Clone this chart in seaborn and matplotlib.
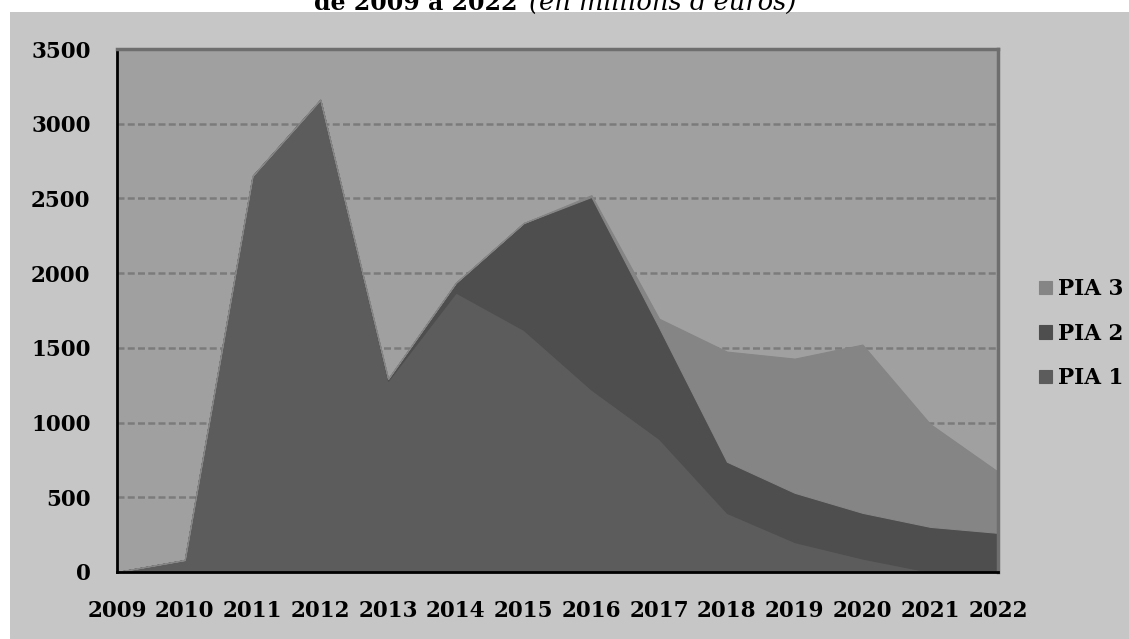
import numpy as np
import pandas as pd
import matplotlib
matplotlib.use("Agg")
import matplotlib.pyplot as plt
from matplotlib.patches import Rectangle
import seaborn as sns

# Annual commitments per programme (millions of euros)
years = [2009, 2010, 2011, 2012, 2013, 2014, 2015, 2016, 2017, 2018, 2019, 2020, 2021, 2022]
pia1 = [0, 80, 2650, 3160, 1280, 1870, 1620, 1220, 890, 395, 200, 90, 0, 0]
pia2 = [0, 0, 0, 0, 12, 65, 715, 1290, 745, 343, 330, 306, 302, 262]
pia3 = [0, 0, 0, 0, 0, 0, 0, 12, 60, 737, 898, 1126, 688, 409]
series_names = ["PIA 1", "PIA 2", "PIA 3"]
y_ticks = [0, 500, 1000, 1500, 2000, 2500, 3000, 3500]

df = pd.DataFrame({"year": years, "PIA 1": pia1, "PIA 2": pia2, "PIA 3": pia3})

sns.set_style("white")
plt.rcParams["font.family"] = ["DejaVu Serif"]
plt.rcParams["text.color"] = "black"

colors = {"PIA 1": "#5c5c5c", "PIA 2": "#4e4e4e", "PIA 3": "#858585"}

W, H = 1129, 639
fig = plt.figure(figsize=(W / 100, H / 100), dpi=100)
fig.patch.set_facecolor("white")
fig.add_artist(Rectangle((10 / W, 0), 1 - 10 / W, 1 - 12 / H, transform=fig.transFigure,
                         facecolor="#c6c6c6", edgecolor="none", zorder=0))

left, right, top, bottom = 117, 998, 49, 572
ax = fig.add_axes([left / W, 1 - bottom / H, (right - left) / W, (bottom - top) / H])
ax.set_facecolor("#a0a0a0")

stack = ax.stackplot(df["year"], [df[n] for n in series_names],
                     colors=[colors[n] for n in series_names], labels=series_names,
                     linewidth=0.8, zorder=2)
for poly, n in zip(stack, series_names):
    poly.set_edgecolor(colors[n])

for v in y_ticks[1:-1]:
    ax.axhline(v, color="#7b7b7b", linestyle=(0, (2.8, 1.3)), linewidth=1.8, zorder=1)

ax.set_xlim(years[0], years[-1])
ax.set_ylim(0, 3500)
ax.set_xticks(years)
ax.set_xticklabels([str(y) for y in years])
ax.set_yticks(y_ticks)
ax.tick_params(axis="both", labelsize=15.5, width=2, length=7, color="black",
               labelcolor="black")
ax.tick_params(axis="x", pad=13)
ax.tick_params(axis="y", pad=12)
for lab in ax.get_xticklabels() + ax.get_yticklabels():
    lab.set_fontweight("bold")

for side in ["left", "bottom"]:
    ax.spines[side].set_color("black")
    ax.spines[side].set_linewidth(2)
for side in ["top", "right"]:
    ax.spines[side].set_color("#6e6e6e")
    ax.spines[side].set_linewidth(2.5)
ax.spines["bottom"].set_zorder(5)

handles, labels = ax.get_legend_handles_labels()
leg = fig.legend(handles[::-1], labels[::-1], loc="upper left",
                 bbox_to_anchor=(1039 / W, 1 - 278 / H), frameon=False,
                 borderaxespad=0, borderpad=0,
                 handlelength=0.6, handleheight=0.6, handletextpad=0.3,
                 labelspacing=1.05, prop={"family": "DejaVu Serif", "weight": "bold", "size": 15.5})
for t in leg.get_texts():
    t.set_color("black")

fig.text(518 / W, 1 - 10 / H, "de 2009 à 2022", ha="right", va="baseline",
         fontsize=17, fontweight="bold")
fig.text(529 / W, 1 - 10 / H, "(en millions d'euros)", ha="left", va="baseline",
         fontsize=18.5, fontstyle="italic")

fig.savefig("out.png", dpi=100)
